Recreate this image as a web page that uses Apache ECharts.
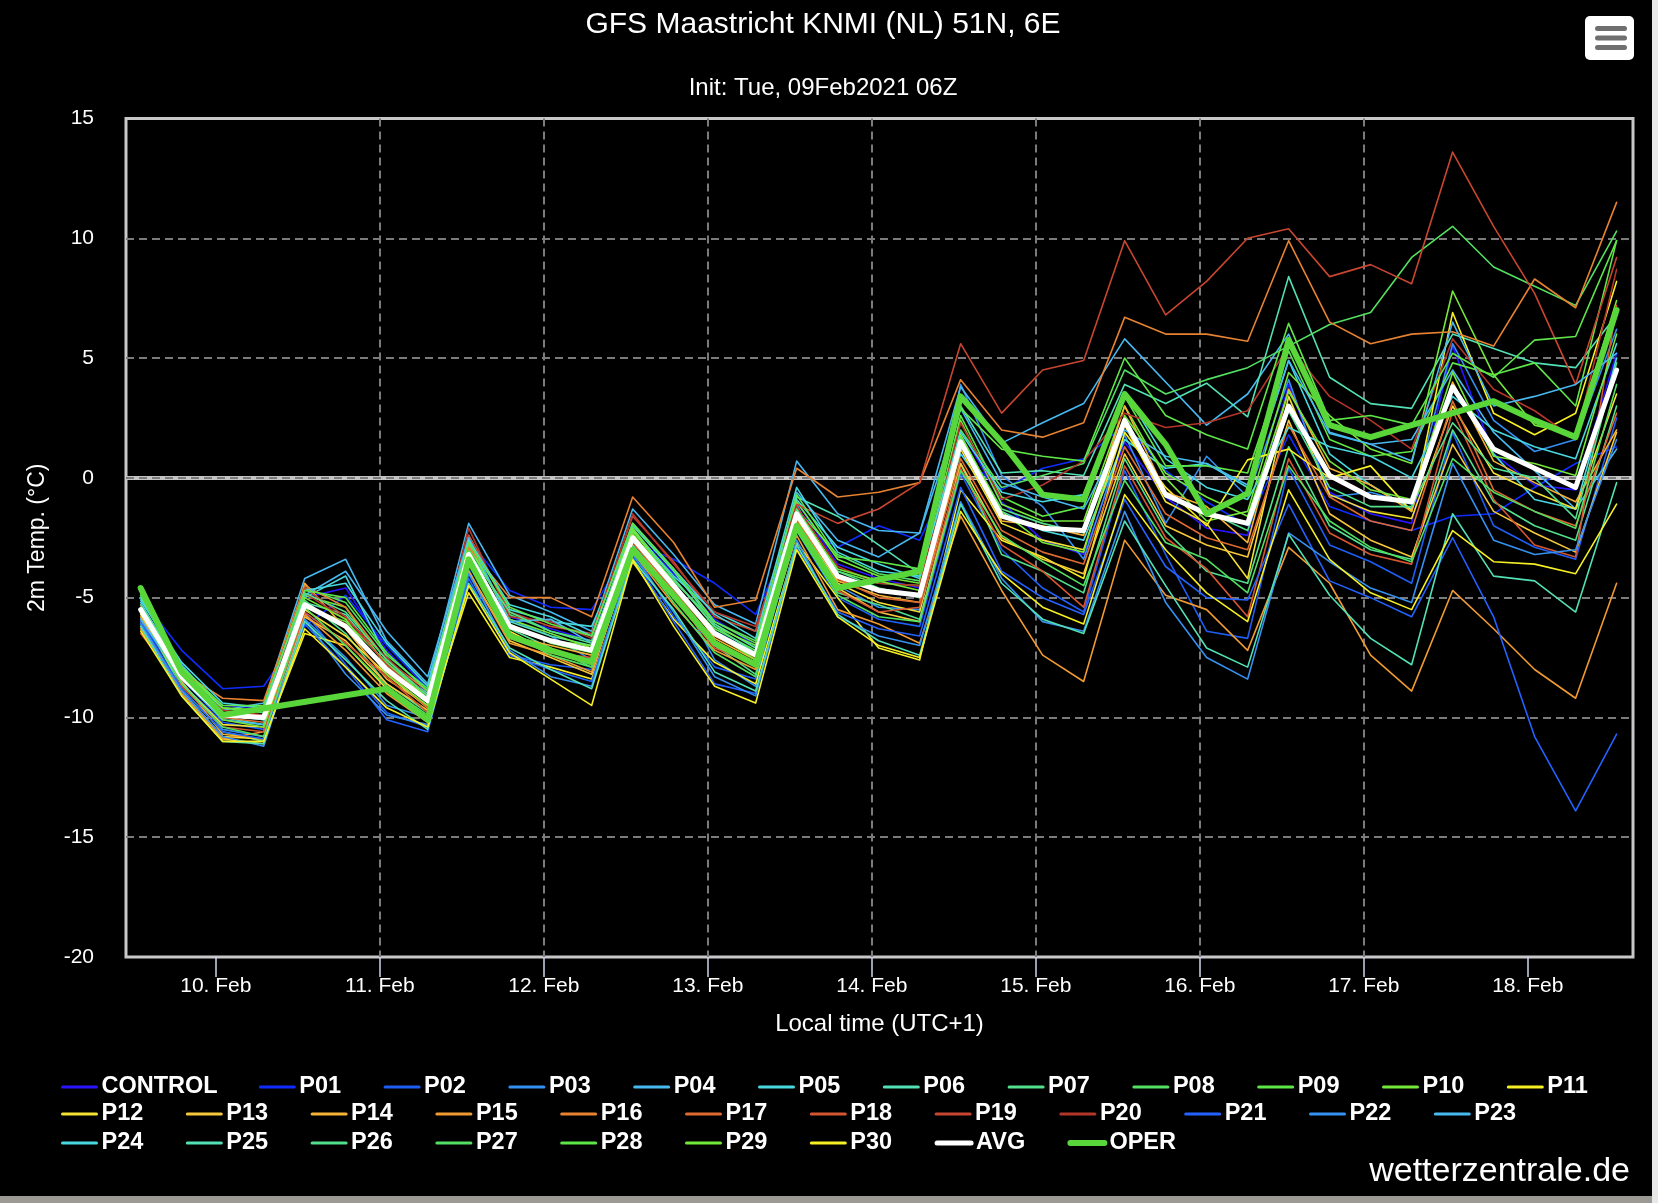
<!DOCTYPE html>
<html>
<head>
<meta charset="utf-8">
<script src="https://cdn.jsdelivr.net/npm/echarts@6/dist/echarts.min.js"></script>
<style>
html,body{margin:0;padding:0;background:#000;}
#chart{width:1658px;height:1203px;}
</style>
</head>
<body>
<div id="chart"></div>
<script>
// Time of each forecast step, hours after 09 Feb 2021 00:00 local time (UTC+1)
const HOURS = [13,19,25,31,37,43,49,55,61,67,73,79,85,91,97,103,109,115,121,127,133,139,145,151,157,163,169,175,181,187,193,199,205,211,217,223,229];
const DAY_TICKS = [24,48,72,96,120,144,168,192,216];
const DAY_LABELS = ['10. Feb','11. Feb','12. Feb','13. Feb','14. Feb','15. Feb','16. Feb','17. Feb','18. Feb'];
const Y_TICKS = [-20,-15,-10,-5,0,5,10,15];

// 2m temperature (°C) per member
const CONTROL = [-5.3,-7.9,-9.5,-9.6, -5.0,-4.6,-7.2,-9.0, -2.8,-5.8,-6.3,-6.8, -2.2,-4.0,-5.9,-7.0, -1.0,-3.6,-4.2,-4.6, 2.0,-1.0,-2.6,-3.2, 1.5,-0.8,-2.1,-2.4, 3.9,-0.6,-1.5,-1.9, 5.5,1.0,-0.3,-0.5, 5.2];
const P01 = [-5.0,-7.2,-8.8,-8.7, -6.2,-4.9,-7.0,-8.8, -2.6,-4.7,-5.4,-5.5, -2.7,-3.4,-4.4,-5.7, -1.9,-2.9,-2.0,-2.6, 1.0,-0.5,0.4,0.8, 2.2,0.3,-1.0,-2.0, 1.8,-1.2,-1.8,-2.2, -1.6,-1.5,-0.4,0.6, 1.3];
const P02 = [-5.9,-8.6,-10.2,-10.5, -5.6,-7.8,-9.8,-10.4, -3.8,-7.4,-7.8,-8.0, -3.0,-5.8,-7.9,-8.4, -2.2,-5.0,-5.9,-6.2, 0.2,-3.0,-4.6,-5.6, 0.3,-3.2,-6.4,-6.7, 0.4,-2.8,-3.5,-4.4, 1.9,-2.0,-2.9,-3.4, 2.5];
const P03 = [-5.7,-8.5,-10.5,-10.8, -5.9,-7.5,-9.5,-10.0, -2.7,-5.9,-6.6,-7.6, -2.1,-4.4,-7.6,-8.7, -1.1,-4.5,-5.4,-5.5, 3.9,0.1,-1.2,-3.4, 1.8,-1.9,0.9,-0.8, 4.1,-0.8,-0.6,-1.1, 5.6,2.4,1.1,1.6, 6.2];
const P04 = [-4.9,-7.8,-9.7,-9.4, -4.2,-3.4,-6.8,-8.6, -1.9,-4.9,-5.6,-6.4, -1.3,-3.2,-5.3,-6.1, 0.7,-1.5,-2.2,-2.3, 3.8,1.45,2.3,3.1, 5.8,4.0,2.2,3.5, 6.0,1.9,1.4,1.6, 4.5,1.9,0.3,-1.3, 1.2];
const P05 = [-5.2,-8.1,-9.9,-10.1, -5.0,-4.1,-7.5,-9.4, -2.4,-5.5,-6.0,-6.2, -2.2,-4.1,-5.6,-6.4, -0.9,-2.9,-3.6,-4.2, 1.0,-1.4,-2.2,-2.6, 1.6,0.4,0.6,-0.4, 4.9,1.0,-0.3,-1.3, 3.8,1.0,-0.9,-1.3, 5.0];
const P06 = [-5.0,-8.0,-10.0,-10.3, -5.2,-5.7,-7.8,-9.0, -2.6,-6.0,-6.6,-7.0, -2.0,-3.9,-6.1,-7.1, -0.8,-1.6,-2.8,-4.0, 3.0,0.2,0.3,0.1, 3.9,3.1,3.95,2.55, 8.4,4.2,3.1,2.9, 6.0,5.4,4.8,4.6, 6.8];
const P07 = [-5.6,-8.8,-10.6,-11.0, -5.1,-6.5,-8.6,-9.8, -3.4,-6.3,-7.1,-7.9, -2.8,-4.8,-7.0,-8.2, -1.6,-4.8,-5.3,-5.9, 0.6,-3.2,-3.9,-4.8, 0.8,-2.2,-3.9,-4.4, 1.3,-2.0,-3.0,-3.4, 2.0,-1.0,-2.0,-2.6, 3.0];
const P08 = [-4.7,-8.0,-9.6,-9.8, -4.6,-5.2,-7.4,-8.8, -2.9,-5.7,-6.4,-6.8, -2.4,-4.3,-6.0,-6.8, -1.3,-3.2,-4.0,-4.3, 2.0,-0.4,0.1,0.6, 4.5,3.5,4.1,4.6, 5.5,6.4,6.9,9.2, 10.5,8.8,8.0,7.2, 10.3];
const P09 = [-4.8,-8.2,-9.9,-10.0, -5.4,-6.0,-7.7,-9.2, -3.0,-6.1,-6.9,-7.3, -2.3,-4.6,-6.3,-7.2, -1.2,-3.9,-4.4,-4.5, 2.6,-0.8,-1.6,-1.2, 3.4,0.5,0.5,0.2, 5.3,1.6,0.9,1.1, 4.8,4.3,4.8,3.0, 9.9];
const P10 = [-4.6,-7.9,-9.6,-9.7, -4.9,-5.4,-7.9,-9.1, -2.8,-5.9,-6.5,-7.1, -2.1,-4.2,-6.2,-7.0, -1.0,-3.4,-4.1,-4.4, 2.4,-1.1,-1.8,-1.8, 3.0,0.0,-1.8,-1.4, 4.4,2.6,1.2,0.6, 7.8,4.3,2.2,1.8, 7.4];
const P11 = [-6.0,-8.9,-10.8,-10.9, -6.5,-7.0,-8.8,-10.1, -4.8,-7.5,-7.9,-8.4, -3.5,-5.9,-7.7,-8.6, -2.7,-5.0,-7.1,-7.6, -0.5,-2.6,-3.3,-4.2, 1.9,-0.4,-2.0,0.75, 1.2,0.0,0.5,-1.4, 6.9,2.7,1.8,2.7, 8.2];
const P12 = [-5.7,-8.6,-10.3,-10.4, -5.5,-6.6,-8.2,-9.6, -3.5,-6.4,-7.3,-7.6, -2.6,-4.9,-6.8,-7.8, -1.7,-4.4,-5.2,-5.6, 1.2,-1.9,-2.6,-3.0, 2.2,-1.0,-1.9,-4.2, 3.4,-0.7,-1.4,-1.7, 3.0,0.2,-0.6,-1.3, 3.5];
const P13 = [-6.2,-8.9,-10.9,-11.1, -5.8,-6.8,-8.6,-9.7, -3.9,-6.8,-7.5,-8.2, -3.0,-5.0,-6.9,-7.9, -2.1,-4.6,-5.6,-6.0, 0.6,-2.5,-3.4,-4.0, 1.0,-2.0,-2.8,-3.3, 2.4,-1.5,-2.6,-3.3, 1.4,-1.4,-2.3,-3.1, 1.9];
const P14 = [-5.8,-8.5,-10.7,-10.9, -4.4,-6.3,-8.4,-9.5, -3.3,-6.6,-7.0,-7.4, -2.4,-4.4,-6.7,-7.6, -1.4,-4.3,-4.9,-5.2, 1.4,-1.8,-2.0,-2.4, 3.0,-0.6,-1.2,-2.7, 3.7,0.4,-0.3,-1.4, 4.0,0.7,-0.2,-1.0, 2.0];
const P15 = [-6.3,-9.0,-10.9,-10.6, -5.7,-7.2,-9.0,-10.2, -3.9,-6.9,-7.4,-8.1, -3.1,-5.3,-7.2,-8.0, -2.4,-5.5,-6.1,-6.9, -1.6,-4.7,-7.4,-8.5, -2.6,-4.9,-5.5,-7.2, -2.9,-4.4,-7.4,-8.9, -4.7,-6.3,-8.0,-9.2, -4.4];
const P16 = [-5.4,-8.1,-9.2,-9.3, -4.5,-5.4,-7.6,-8.9, -2.9,-5.0,-5.0,-5.8, -0.8,-2.7,-5.4,-5.1, 0.4,-0.8,-0.6,-0.2, 4.1,2.0,1.7,2.3, 6.7,6.0,6.0,5.7, 9.9,6.5,5.6,6.0, 6.1,5.5,8.3,7.1, 11.5];
const P17 = [-5.6,-8.4,-10.0,-10.2, -5.3,-6.1,-8.1,-9.6, -3.3,-6.5,-7.2,-7.7, -2.7,-4.7,-6.6,-7.5, -1.8,-4.2,-5.0,-5.2, 0.8,-2.2,-3.1,-3.6, 1.3,-1.5,-2.5,-3.0, 2.2,-0.8,-1.8,-2.2, 3.2,-0.5,-1.4,-2.0, 2.7];
const P18 = [-6.5,-8.7,-10.4,-10.6, -5.6,-6.9,-8.3,-9.8, -3.6,-6.7,-7.3,-7.5, -2.9,-5.0,-7.1,-7.8, -2.0,-4.7,-5.6,-5.4, 0.4,-2.8,-3.9,-5.4, 0.5,-2.5,-3.8,-5.8, 0.8,-2.3,-3.2,-3.6, 2.8,-0.9,-2.8,-3.3, 7.2];
const P19 = [-5.5,-8.3,-9.8,-9.9, -4.6,-5.8,-7.8,-9.3, -2.4,-5.6,-6.2,-6.5, -1.6,-3.5,-5.8,-6.4, -1.1,-1.9,-1.3,-0.2, 5.6,2.7,4.5,4.9, 9.9,6.8,8.2,10.0, 10.4,8.4,8.9,8.1, 13.6,10.5,7.7,3.9, 9.2];
const P20 = [-5.3,-8.2,-9.7,-9.9, -4.8,-5.9,-7.5,-9.1, -2.1,-5.8,-6.0,-6.7, -1.5,-3.6,-5.6,-6.2, -1.2,-3.7,-4.4,-4.5, 2.3,-0.9,-0.3,0.7, 2.7,2.1,2.3,2.8, 5.5,3.4,2.4,1.2, 5.8,3.7,2.8,1.6, 8.7];
const P21 = [-6.0,-8.8,-10.6,-10.9, -6.1,-7.9,-10.1,-10.6, -4.2,-7.4,-8.0,-8.5, -3.3,-6.0,-8.6,-9.0, -2.9,-5.6,-6.3,-6.6, -0.4,-3.9,-5.0,-5.7, -0.9,-3.7,-5.0,-5.1, -1.1,-4.3,-5.0,-5.8, -2.5,-5.8,-10.8,-13.9, -10.7];
const P22 = [-6.1,-8.9,-10.8,-11.2, -5.9,-8.2,-9.9,-10.3, -4.0,-7.2,-8.3,-8.7, -3.2,-5.6,-8.3,-9.1, -2.6,-5.8,-6.6,-7.0, -1.0,-4.2,-6.0,-6.4, -1.4,-5.2,-7.5,-8.4, -2.3,-3.5,-4.6,-5.2, 0.6,-2.6,-3.2,-3.0, 1.6];
const P23 = [-5.9,-8.4,-10.1,-10.3, -4.9,-3.9,-6.4,-8.3, -2.5,-6.0,-5.9,-6.9, -2.6,-4.6,-6.4,-7.3, -0.6,-2.6,-3.3,-2.3, 2.9,-0.2,-0.8,-1.3, 2.0,0.9,0.6,-0.3, 4.9,1.85,1.4,0.7, 6.5,3.0,3.4,3.9, 5.2];
const P24 = [-5.1,-7.7,-9.4,-9.6, -4.7,-4.4,-6.9,-8.7, -2.6,-5.3,-5.8,-6.6, -1.9,-3.8,-5.7,-6.7, -0.4,-3.1,-3.9,-4.1, 1.9,-0.6,-1.0,-0.7, 3.6,0.8,-0.4,-0.9, 2.1,1.3,0.9,0.0, 3.4,2.0,1.3,0.8, 5.6];
const P25 = [-6.2,-9.1,-11.0,-11.1, -6.0,-7.6,-9.3,-10.5, -4.4,-7.1,-8.0,-8.8, -3.4,-5.5,-8.1,-8.9, -2.8,-5.7,-6.8,-7.4, -1.1,-4.4,-5.9,-6.5, -1.8,-4.5,-7.1,-7.9, -2.35,-4.9,-6.7,-7.8, -1.5,-4.1,-4.3,-5.6, -0.2];
const P26 = [-5.3,-8.0,-9.8,-10.1, -4.8,-5.6,-7.6,-9.1, -3.1,-5.6,-6.4,-6.9, -2.2,-4.2,-6.2,-7.3, -1.3,-3.9,-4.6,-5.0, 1.7,-1.3,-1.9,-2.3, 2.5,-0.8,-1.4,-2.2, 2.8,-0.4,-1.2,-1.2, 2.3,0.4,0.0,-1.7, 4.8];
const P27 = [-5.6,-8.6,-10.4,-10.8, -5.4,-7.0,-8.7,-9.9, -3.6,-6.5,-7.4,-7.9, -2.9,-5.2,-7.3,-8.3, -2.2,-4.9,-5.8,-6.0, 0.3,-2.4,-3.5,-4.5, -0.1,-2.7,-3.4,-4.8, 0.5,-1.8,-2.9,-3.5, 0.8,-0.6,-1.4,-2.1, 3.9];
const P28 = [-4.9,-7.9,-9.5,-9.5, -4.7,-5.0,-7.3,-8.9, -2.7,-5.4,-6.1,-6.6, -1.9,-3.8,-6.0,-6.9, -0.7,-3.3,-3.5,-3.8, 2.9,1.2,0.9,0.7, 5.0,2.6,1.8,1.2, 6.45,2.4,2.6,2.2, 5.2,4.2,5.75,5.9, 9.9];
const P29 = [-4.7,-8.1,-10.1,-10.4, -5.0,-5.9,-8.2,-9.5, -3.1,-6.2,-6.8,-7.0, -2.2,-4.4,-6.5,-7.6, -1.4,-3.8,-4.3,-4.7, 1.8,-1.4,-2.7,-3.1, 2.6,0.2,-0.8,-1.6, 3.6,0.7,-0.5,-0.9, 4.4,0.9,0.6,0.1, 6.0];
const P30 = [-6.4,-9.1,-11.0,-11.0, -6.3,-7.9,-9.6,-10.4, -4.5,-7.3,-8.4,-9.5, -3.4,-6.2,-8.7,-9.4, -3.0,-5.8,-7.0,-7.5, -1.4,-4.0,-5.4,-6.1, -0.7,-3.0,-4.8,-6.0, -0.5,-3.4,-4.8,-5.5, -2.2,-3.5,-3.6,-4.0, -1.1];
const AVG = [-5.5,-8.3,-9.9,-10.0, -5.3,-6.2,-8.0,-9.3, -3.2,-6.2,-6.8,-7.2, -2.5,-4.5,-6.5,-7.4, -1.5,-4.1,-4.7,-4.9, 1.5,-1.6,-2.1,-2.2, 2.4,-0.7,-1.5,-1.9, 3.0,0.1,-0.8,-1.0, 3.8,1.2,0.4,-0.4, 4.5];
const OPER = [-4.6,-8.1,-9.9,null, null,null,-8.8,-10.1, -3.4,-6.6,-7.2,-7.7, -3.0,-4.9,-6.9,-7.8, -2.0,-4.6,null,-3.9, 3.4,1.5,-0.7,-0.9, 3.5,1.4,-1.5,-0.65, 5.75,2.2,1.7,null, null,3.2,2.4,1.7, 7.0];

const SERIES_VALUES = {CONTROL,P01,P02,P03,P04,P05,P06,P07,P08,P09,P10,P11,P12,P13,P14,P15,P16,P17,P18,P19,P20,P21,P22,P23,P24,P25,P26,P27,P28,P29,P30,AVG,OPER};
const NAMES = Object.keys(SERIES_VALUES);

const COLORS = {
  CONTROL:'#2a14ff', P01:'#0f2cff', P02:'#1f5ef5', P03:'#3390f0', P04:'#47b9f0', P05:'#48d8e0',
  P06:'#52e0b4', P07:'#52e08c', P08:'#52e062', P09:'#5ee648', P10:'#74e83a', P11:'#f5ef24',
  P12:'#f5e034', P13:'#f6c83a', P14:'#f5b234', P15:'#f09a32', P16:'#e78230', P17:'#df6a30',
  P18:'#d65632', P19:'#c84630', P20:'#b4362a', P21:'#2462ff', P22:'#3592f2', P23:'#47b9f0',
  P24:'#48d8e0', P25:'#52e0b4', P26:'#52e08c', P27:'#52e062', P28:'#5ee648', P29:'#74e83a',
  P30:'#f5ef24', AVG:'#ffffff', OPER:'#58d63a'
};

const FONT = '"Liberation Sans", Arial, Helvetica, sans-serif';
const GRID_LINE = {color:'#7b7b7b', width:2, type:[8,5]};

const series = NAMES.map(function (n) {
  const isAvg = n === 'AVG', isOper = n === 'OPER';
  const s = {
    name: n,
    type: 'line',
    data: HOURS.map(function (h, i) { return [h, SERIES_VALUES[n][i]]; }),
    symbol: 'none',
    showSymbol: false,
    connectNulls: isOper,
    silent: true,
    animation: false,
    z: isOper ? 4 : (isAvg ? 3 : 2),
    itemStyle: {color: COLORS[n]},
    lineStyle: {color: COLORS[n], width: isOper ? 6 : (isAvg ? 5 : 1.6), cap: 'round', join: 'round'}
  };
  if (isAvg) {
    s.markLine = {
      silent: true, z: 1, symbol: ['none','none'], animation: false,
      label: {show: false},
      emphasis: {disabled: true},
      data: [
        {yAxis: 0, lineStyle: {color:'#c4c4c4', width:4, type:'solid'}},
        {yAxis: 0, lineStyle: {color:'#7b7b7b', width:2, type:[8,5]}}
      ]
    };
  }
  return s;
});

function legendRow(top, names) {
  return {
    left: 56, top: top, orient: 'horizontal',
    itemWidth: 34, itemHeight: 14, itemGap: 24.3,
    selectedMode: false,
    lineStyle: {width: 3},
    itemStyle: {opacity: 0, borderWidth: 0},
    textStyle: {color:'#ffffff', fontSize: 23.5, fontWeight: 'bold', fontFamily: FONT, width: 60, lineHeight: 24},
    data: names
  };
}

const option = {
  backgroundColor: '#000000',
  animation: false,
  textStyle: {fontFamily: FONT},
  title: [
    {text: 'GFS Maastricht KNMI (NL) 51N, 6E', left: 818, top: 5, textAlign: 'center',
     textStyle: {color:'#ffffff', fontSize: 30, fontWeight: 'normal', fontFamily: FONT}},
    {text: 'Init: Tue, 09Feb2021 06Z', left: 818, top: 71, textAlign: 'center',
     textStyle: {color:'#ffffff', fontSize: 24, fontWeight: 'normal', fontFamily: FONT}}
  ],
  grid: {left: 126, right: 25, top: 118.5, bottom: 246, show: true, backgroundColor: '#000000',
         borderColor: '#c8c8c8', borderWidth: 3, containLabel: false},
  xAxis: {
    type: 'value', min: 10.85, max: 231.4,
    axisLine: {show: false, onZero: false},
    axisTick: {show: true, customValues: DAY_TICKS, length: 20, lineStyle: {color:'#ccd6eb', width: 1.5}},
    axisLabel: {customValues: DAY_TICKS, color:'#ffffff', fontSize: 21, margin: 19, fontFamily: FONT,
                formatter: function (v) { return DAY_LABELS[DAY_TICKS.indexOf(Math.round(v))]; }},
    splitLine: {show: true, showMinLine: false, showMaxLine: false, lineStyle: GRID_LINE},
    name: 'Local time (UTC+1)', nameLocation: 'middle', nameGap: 55,
    nameTextStyle: {color:'#ffffff', fontSize: 24, fontFamily: FONT}
  },
  yAxis: {
    type: 'value', min: -20, max: 15, interval: 5,
    axisLine: {show: false}, axisTick: {show: false},
    axisLabel: {color:'#ffffff', fontSize: 21, margin: 32, fontFamily: FONT,
                formatter: function (v) { return Y_TICKS.indexOf(v) >= 0 ? String(v) : ''; }},
    splitLine: {show: true, showMinLine: false, showMaxLine: false, lineStyle: GRID_LINE},
    name: '2m Temp. (°C)', nameLocation: 'middle', nameGap: 77, nameRotate: 90,
    nameTextStyle: {color:'#ffffff', fontSize: 23, fontFamily: FONT}
  },
  legend: [
    legendRow(1070, [{name:'CONTROL', textStyle:{width:133}}].concat(NAMES.slice(1, 12))),
    legendRow(1097, NAMES.slice(12, 24)),
    legendRow(1126, NAMES.slice(24, 31).concat([{name:'AVG', lineStyle:{width:5}, textStyle:{width:67}}, {name:'OPER', lineStyle:{width:6}}]))
  ],
  graphic: [
    {type:'text', right: 28, top: 1155, z: 10,
     style: {text: 'wetterzentrale.de', fill: '#ffffff', font: '34px ' + FONT}},
    {type:'rect', x: 1585, y: 16, z: 10, shape: {width: 49, height: 44, r: 5}, style: {fill: '#ffffff'}},
    {type:'rect', x: 1595, y: 26, z: 11, shape: {width: 32, height: 5, r: 2.5}, style: {fill: '#6f6f6f'}},
    {type:'rect', x: 1595, y: 35.5, z: 11, shape: {width: 32, height: 5, r: 2.5}, style: {fill: '#6f6f6f'}},
    {type:'rect', x: 1595, y: 45, z: 11, shape: {width: 32, height: 5, r: 2.5}, style: {fill: '#6f6f6f'}},
    {type:'rect', x: 0, y: 1196, z: 10, shape: {width: 1658, height: 7}, style: {fill: '#9c9a94'}},
    {type:'rect', x: 1652, y: 0, z: 10, shape: {width: 6, height: 1203}, style: {fill: '#e8e8e8'}}
  ],
  series: series
};

const chart = echarts.init(document.getElementById('chart'), null, {renderer: 'canvas'});
chart.setOption(option);
</script>
</body>
</html>
